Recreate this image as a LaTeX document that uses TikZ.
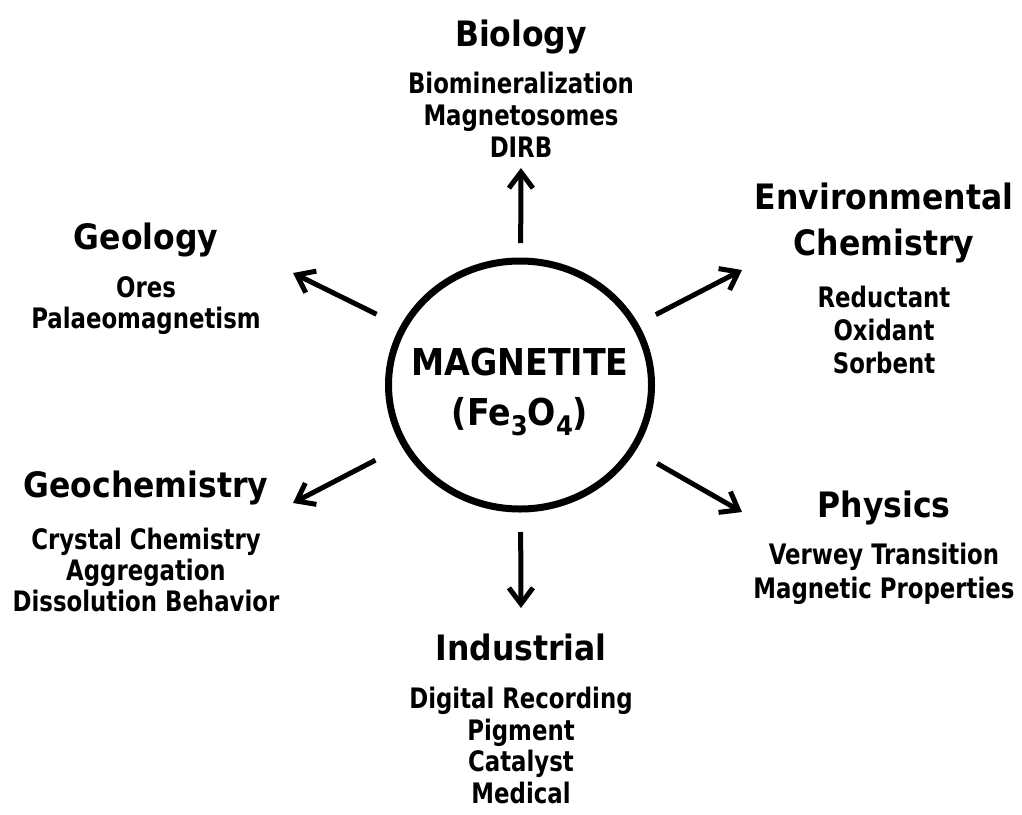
\documentclass[tikz,border=0pt]{standalone}
\usepackage{fontspec}
\setmainfont{DejaVu Sans Condensed}
\newfontfamily\itemfont{DejaVu Sans Condensed}[FakeStretch=0.9]
\usetikzlibrary{arrows.meta,shapes.geometric}

\newcommand{\lowsub}[1]{\raisebox{-0.28em}{\fontsize{27}{27}\selectfont #1}}

\tikzset{
  head/.style={font=\fontsize{35}{35}\selectfont\bfseries, anchor=base, inner sep=0pt},
  item/.style={font=\itemfont\fontsize{28.2}{28.2}\selectfont\bfseries, anchor=base, inner sep=0pt},
  core/.style={font=\fontsize{37}{37}\selectfont\bfseries, anchor=base, inner sep=0pt},
  arr/.style={line width=5pt, -{Straight Barb[length=16pt,width=24pt]}}
}

\begin{document}
\begin{tikzpicture}[x=1pt,y=-1pt]
  \useasboundingbox (0,0) rectangle (1022,814);

  % centre
  \node [draw, ellipse, line width=7pt, minimum width=263pt, minimum height=248pt, inner sep=0pt] (mag) at (520,385) {};
  \node [core] (magname) at (520,375) {MAGNETITE};
  \node [core] (formula) at (520,425) {(Fe\lowsub{3}O\lowsub{4})};

  % arrow ends
  \coordinate (bio-tip) at (521,168);
  \coordinate (ind-tip) at (521,608);
  \coordinate (geo-tip) at (293,273);
  \coordinate (env-tip) at (742,270);
  \coordinate (gch-tip) at (293,503);
  \coordinate (phy-tip) at (742,512);

  \draw [arr, shorten <=142pt] (mag.center) -- (bio-tip);
  \draw [arr, shorten <=147pt] (mag.center) -- (ind-tip);
  \draw [arr, shorten <=160pt] (mag.center) -- (geo-tip);
  \draw [arr, shorten <=153pt] (mag.center) -- (env-tip);
  \draw [arr, shorten <=163pt] (mag.center) -- (gch-tip);
  \draw [arr, shorten <=158pt] (mag.center) -- (phy-tip);

  % biology
  \node [head] (bio) at (521,46) {Biology};
  \node [item] (bio-1) at (521,93) {Biomineralization};
  \node [item] (bio-2) at (521,125) {Magnetosomes};
  \node [item] (bio-3) at (521,157) {DIRB};

  % geology
  \node [head] (geo) at (146,249) {Geology};
  \node [item] (geo-1) at (146,297) {Ores};
  \node [item] (geo-2) at (146,328) {Palaeomagnetism};

  % environmental chemistry
  \node [head] (env-a) at (884,209) {Environmental};
  \node [head] (env-b) at (884,255) {Chemistry};
  \node [item] (env-1) at (884,307) {Reductant};
  \node [item] (env-2) at (884,340) {Oxidant};
  \node [item] (env-3) at (884,373) {Sorbent};

  % geochemistry
  \node [head] (gch) at (146,497) {Geochemistry};
  \node [item] (gch-1) at (146,549) {Crystal Chemistry};
  \node [item] (gch-2) at (146,580) {Aggregation};
  \node [item] (gch-3) at (146,611) {Dissolution Behavior};

  % physics
  \node [head] (phy) at (884,517) {Physics};
  \node [item] (phy-1) at (884,564) {Verwey Transition};
  \node [item] (phy-2) at (884,598) {Magnetic Properties};

  % industrial
  \node [head] (ind) at (521,660) {Industrial};
  \node [item] (ind-1) at (521,708) {Digital Recording};
  \node [item] (ind-2) at (521,740) {Pigment};
  \node [item] (ind-3) at (521,771) {Catalyst};
  \node [item] (ind-4) at (521,803) {Medical};
\end{tikzpicture}
\end{document}
